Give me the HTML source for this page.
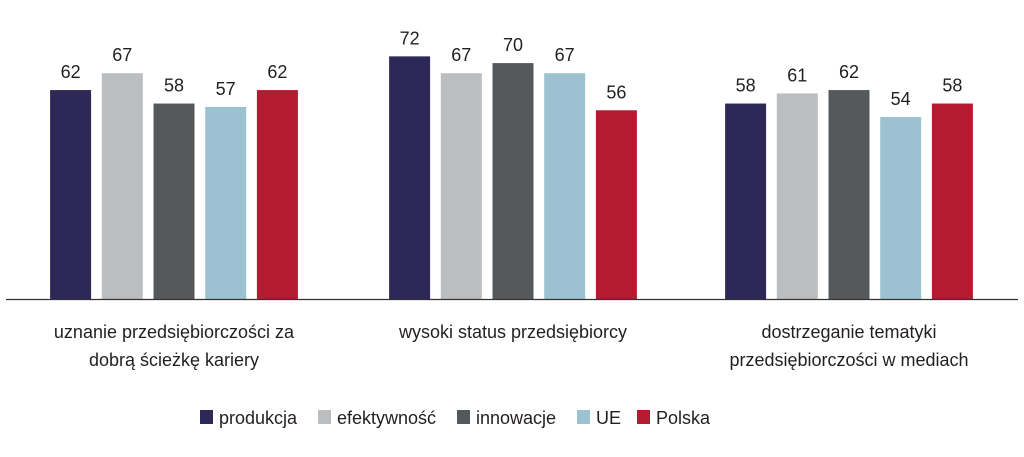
<!DOCTYPE html>
<html><head><meta charset="utf-8"><style>
body{margin:0;background:#fff;width:1024px;height:452px;overflow:hidden}
svg{font-family:"Liberation Sans",sans-serif}
</style></head><body>
<svg id="chart" width="1024" height="452"></svg>
<script>
const categories=[["uznanie przedsiębiorczości za","dobrą ścieżkę kariery"],["wysoki status przedsiębiorcy"],["dostrzeganie tematyki","przedsiębiorczości w mediach"]];
const seriesNames=["produkcja","efektywność","innowacje","UE","Polska"];
const produkcja=[62,72,58];
const efektywnosc=[67,67,61];
const innowacje=[58,70,62];
const ue=[57,67,54];
const polska=[62,56,58];
const seriesValues=[produkcja,efektywnosc,innowacje,ue,polska];
const colors=["#2e2857","#bbbdbf","#55585b","#9cc2d2","#b31c30"];
const NS="http://www.w3.org/2000/svg";
const svg=document.getElementById('chart');
const base=299, k=3.37;
function y(v){return base-v*k;}
const groupCenters=[174,513,849];
function gx(g){return groupCenters[g];}
const barW=41, pitch=51.7;
function mk(t,a){const e=document.createElementNS(NS,t);for(const n in a)e.setAttribute(n,a[n]);svg.appendChild(e);return e;}
for(let s=0;s<seriesValues.length;s++){
  for(let g=0;g<categories.length;g++){
    const v=seriesValues[s][g];
    const cx=gx(g)+(s-2)*pitch;
    const r=mk('rect',{x:cx-barW/2,y:y(v),width:barW,height:base-y(v),fill:colors[s]});
    
    
    const t=mk('text',{x:cx,y:y(v)-12,'text-anchor':'middle','font-size':18,fill:'#231f20'});
    t.textContent=v;
    
    
  }
}
const ax=mk('line',{x1:6,x2:1018,y1:299.5,y2:299.5,stroke:'#333',"stroke-width":1.3});


for(let g=0;g<categories.length;g++){
  categories[g].forEach((ln,i)=>{
    const t=mk('text',{x:gx(g),y:338+i*28,'text-anchor':'middle','font-size':18,fill:'#231f20'});
    t.textContent=ln;
    
    
  });
}
const legX=[200,318,457,577,637];
for(let s=0;s<seriesNames.length;s++){
  const r=mk('rect',{x:legX[s],y:410,width:13,height:14,fill:colors[s]});
  
  
  const t=mk('text',{x:legX[s]+19,y:424,'font-size':18,fill:'#231f20'});
  t.textContent=seriesNames[s];
  
  
}
</script>
</body></html>
